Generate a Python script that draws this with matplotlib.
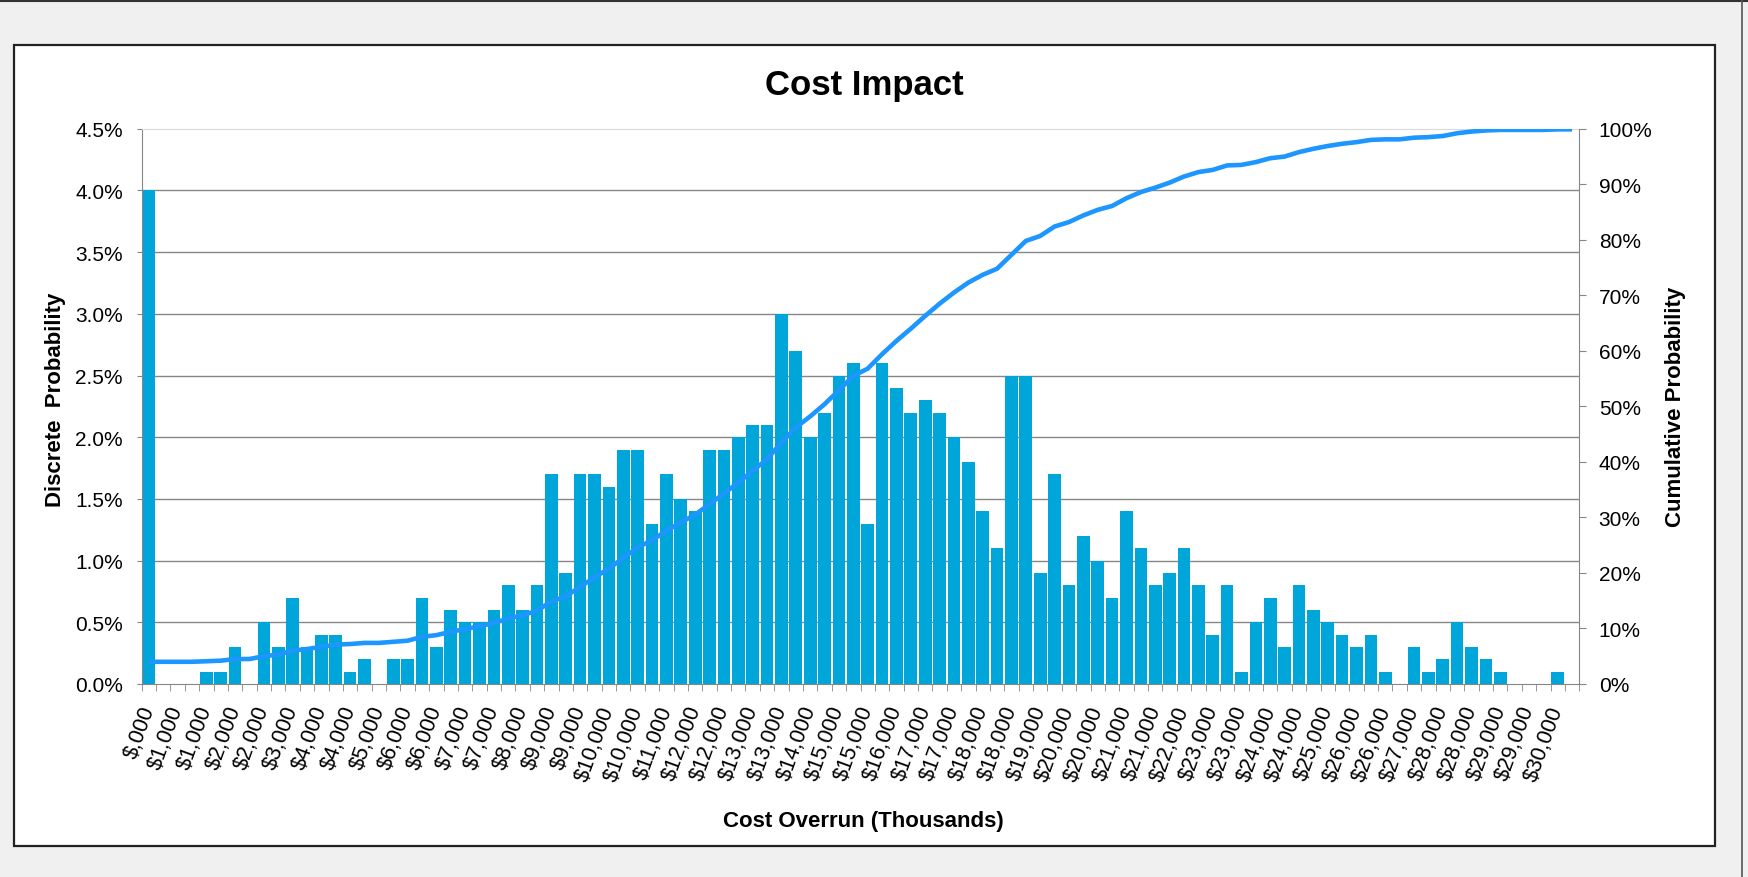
import numpy as np
import matplotlib.pyplot as plt
from matplotlib.patches import Rectangle
from matplotlib.lines import Line2D
from matplotlib.ticker import FuncFormatter

plt.rcParams['font.family'] = ['Liberation Sans', 'DejaVu Sans']

# discrete probability of each cost bin, in percent (100 bins)
discrete_pct = [
    4.0, 0.0, 0.0, 0.0, 0.1, 0.1, 0.3, 0.0, 0.5, 0.3,
    0.7, 0.3, 0.4, 0.4, 0.1, 0.2, 0.0, 0.2, 0.2, 0.7,
    0.3, 0.6, 0.5, 0.5, 0.6, 0.8, 0.6, 0.8, 1.7, 0.9,
    1.7, 1.7, 1.6, 1.9, 1.9, 1.3, 1.7, 1.5, 1.4, 1.9,
    1.9, 2.0, 2.1, 2.1, 3.0, 2.7, 2.0, 2.2, 2.5, 2.6,
    1.3, 2.6, 2.4, 2.2, 2.3, 2.2, 2.0, 1.8, 1.4, 1.1,
    2.5, 2.5, 0.9, 1.7, 0.8, 1.2, 1.0, 0.7, 1.4, 1.1,
    0.8, 0.9, 1.1, 0.8, 0.4, 0.8, 0.1, 0.5, 0.7, 0.3,
    0.8, 0.6, 0.5, 0.4, 0.3, 0.4, 0.1, 0.0, 0.3, 0.1,
    0.2, 0.5, 0.3, 0.2, 0.1, 0.0, 0.0, 0.0, 0.1, 0.0,
]

# labels shown under every second bin
bin_labels = [
    "$,000", "$1,000", "$1,000", "$2,000", "$2,000", "$3,000", "$4,000",
    "$4,000", "$5,000", "$6,000", "$6,000", "$7,000", "$7,000", "$8,000",
    "$9,000", "$9,000", "$10,000", "$10,000", "$11,000", "$12,000",
    "$12,000", "$13,000", "$13,000", "$14,000", "$15,000", "$15,000",
    "$16,000", "$17,000", "$17,000", "$18,000", "$18,000", "$19,000",
    "$20,000", "$20,000", "$21,000", "$21,000", "$22,000", "$23,000",
    "$23,000", "$24,000", "$24,000", "$25,000", "$26,000", "$26,000",
    "$27,000", "$28,000", "$28,000", "$29,000", "$29,000", "$30,000",
]

cumulative_pct = np.cumsum(discrete_pct)
x = np.arange(len(discrete_pct))

W, H = 1748, 878
BAR = '#00A5DA'
LINE = '#1E96FF'
AXIS = '#868686'

fig = plt.figure(figsize=(W / 100, H / 100), dpi=100, facecolor='#F0F0F0')

# white chart panel with dark border, drawn underneath the axes
fig.patches.append(Rectangle((13.5 / W, 1 - 847 / H), (1715 - 13.5) / W, (847 - 45.5) / H,
                             transform=fig.transFigure, facecolor='white',
                             edgecolor='#222222', lw=1.6, zorder=-10))
fig.lines.append(Line2D([0, 1], [1 - 1.5 / H] * 2, transform=fig.transFigure,
                        color='#333333', lw=1.5, zorder=-10))
fig.lines.append(Line2D([1742 / W] * 2, [0, 1], transform=fig.transFigure,
                        color='#555555', lw=1.2, zorder=-10))

ax = fig.add_axes([141.7 / W, 1 - 685 / H, (1579.3 - 141.7) / W, (685 - 129.8) / H])
ax.bar(x, discrete_pct, width=0.88, color=BAR, zorder=2)
ax.set_xlim(-0.5, len(x) - 0.5)
ax.set_ylim(0, 4.5)

yt = np.arange(0, 4.51, 0.5)
ax.set_yticks(yt)
ax.yaxis.set_major_formatter(FuncFormatter(lambda v, p: f'{v:.1f}%'))
ax.hlines(yt[1:-1], -0.5, len(x) - 0.5, color=AXIS, lw=1.0, zorder=1)

ax.set_xticks(x[::2], bin_labels, rotation=70, ha='right', va='center',
              rotation_mode='anchor')
ax.set_xticks(np.arange(-0.5, len(x), 1), minor=True)
ax.tick_params(axis='x', which='major', length=0, pad=16, labelsize=15.5)
ax.tick_params(axis='x', which='minor', length=5, color=AXIS, direction='out')
ax.tick_params(axis='y', length=3.6, color=AXIS, direction='out', labelsize=15, pad=10)

for side in ['left', 'bottom']:
    ax.spines[side].set_color(AXIS)
ax.spines['right'].set_visible(False)
ax.spines['top'].set_color('#D9D9D9')

ax2 = ax.twinx()
ax2.plot(x, cumulative_pct, color=LINE, lw=3.3, solid_capstyle='butt',
         solid_joinstyle='round')
ax2.set_ylim(0, 100)
ax2.set_yticks(np.arange(0, 101, 10))
ax2.yaxis.set_major_formatter(FuncFormatter(lambda v, p: f'{v:.0f}%'))
ax2.tick_params(axis='y', length=5, color=AXIS, direction='out', labelsize=15, pad=9)
ax2.spines['right'].set_color(AXIS)
for side in ['left', 'bottom', 'top']:
    ax2.spines[side].set_visible(False)

fig.text(864 / W, 1 - 95 / H, 'Cost Impact', ha='center', va='baseline',
         fontsize=25, fontweight='bold')
fig.text(863 / W, 1 - 827 / H, 'Cost Overrun (Thousands)', ha='center', va='baseline',
         fontsize=16, fontweight='bold')
fig.text(55 / W, 1 - 400 / H, 'Discrete  Probability', ha='center', va='center',
         rotation=90, fontsize=16, fontweight='bold')
fig.text(1676 / W, 1 - 407 / H, 'Cumulative Probability', ha='center', va='center',
         rotation=90, fontsize=16, fontweight='bold')

fig.savefig('out.png', dpi=100, facecolor=fig.get_facecolor())
